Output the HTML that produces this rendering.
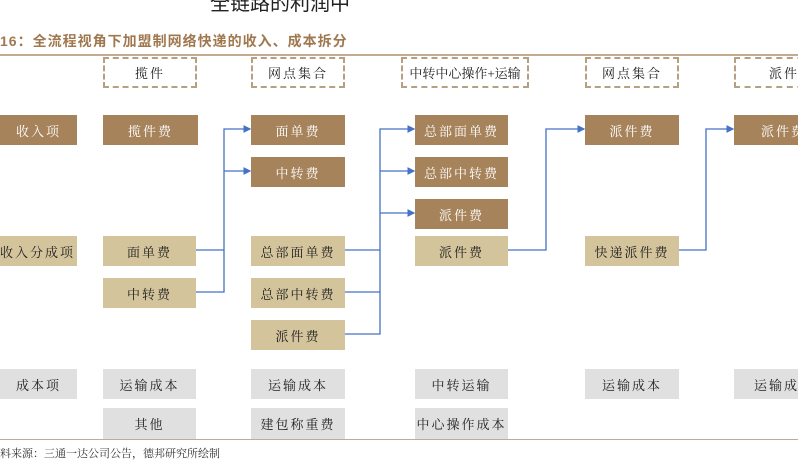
<!DOCTYPE html>
<html><head><meta charset="utf-8"><style>
body{margin:0;width:798px;height:475px;background:#fff;position:relative;overflow:hidden;font-family:"Liberation Serif","Noto Serif CJK SC",serif;}
.b{position:absolute;display:flex;align-items:center;justify-content:center;font-size:13px;letter-spacing:2px;box-sizing:border-box;}
.d{background:#a6835b;color:#fff;}
.l{background:#d4c49c;color:#222;}
.g{background:#e0e0e0;color:#222;}
.h{border:2px dashed #b5a083;color:#222;background:#fff;}
</style></head><body>
<div style="position:absolute;left:210px;top:-13px;font-size:20px;color:#222;font-family:'Noto Sans CJK SC',sans-serif">全链路的利润中</div>
<div style="position:absolute;left:0;top:31px;font-size:14px;font-weight:bold;color:#a0784f;letter-spacing:1px;font-family:'Liberation Sans','Noto Sans CJK SC',sans-serif">16：全流程视角下加盟制网络快递的收入、成本拆分</div>
<div style="position:absolute;left:0;top:54px;width:798px;height:2px;background:#c2ab90"></div>

<div class="b h" style="left:103px;top:57px;width:94px;height:31px">揽件</div>
<div class="b h" style="left:251px;top:57px;width:94px;height:31px">网点集合</div>
<div class="b h" style="left:401px;top:57px;width:128px;height:31px;letter-spacing:0">中转中心操作+运输</div>
<div class="b h" style="left:585px;top:57px;width:94px;height:31px">网点集合</div>
<div class="b h" style="left:734px;top:57px;width:80px;height:31px;justify-content:flex-start;padding-left:33px">派件</div>

<div class="b d" style="left:0;top:115px;width:77px;height:30px">收入项</div>
<div class="b d" style="left:103px;top:115px;width:95px;height:30px">揽件费</div>
<div class="b d" style="left:251px;top:115px;width:94px;height:30px">面单费</div>
<div class="b d" style="left:251px;top:157px;width:94px;height:30px">中转费</div>
<div class="b d" style="left:415px;top:115px;width:93px;height:30px">总部面单费</div>
<div class="b d" style="left:415px;top:157px;width:93px;height:30px">总部中转费</div>
<div class="b d" style="left:415px;top:199px;width:93px;height:30px">派件费</div>
<div class="b d" style="left:585px;top:115px;width:94px;height:30px">派件费</div>
<div class="b d" style="left:734px;top:115px;width:80px;height:30px;justify-content:flex-start;padding-left:27px">派件费</div>

<div class="b l" style="left:0;top:236px;width:77px;height:30px;justify-content:flex-start;padding-left:0">收入分成项</div>
<div class="b l" style="left:103px;top:236px;width:93px;height:30px">面单费</div>
<div class="b l" style="left:103px;top:278px;width:93px;height:30px">中转费</div>
<div class="b l" style="left:251px;top:236px;width:94px;height:30px">总部面单费</div>
<div class="b l" style="left:251px;top:278px;width:94px;height:30px">总部中转费</div>
<div class="b l" style="left:251px;top:320px;width:94px;height:30px">派件费</div>
<div class="b l" style="left:415px;top:236px;width:93px;height:30px">派件费</div>
<div class="b l" style="left:585px;top:236px;width:94px;height:30px">快递派件费</div>

<div class="b g" style="left:0;top:369px;width:77px;height:30px">成本项</div>
<div class="b g" style="left:103px;top:369px;width:93px;height:30px">运输成本</div>
<div class="b g" style="left:103px;top:408px;width:93px;height:31px">其他</div>
<div class="b g" style="left:251px;top:369px;width:94px;height:30px">运输成本</div>
<div class="b g" style="left:251px;top:408px;width:94px;height:31px">建包称重费</div>
<div class="b g" style="left:415px;top:369px;width:93px;height:30px">中转运输</div>
<div class="b g" style="left:415px;top:408px;width:93px;height:31px">中心操作成本</div>
<div class="b g" style="left:585px;top:369px;width:94px;height:30px">运输成本</div>
<div class="b g" style="left:734px;top:369px;width:80px;height:30px;justify-content:flex-start;padding-left:20px">运输成本</div>

<div style="position:absolute;left:0;top:439px;width:798px;height:1px;background:#c2ab90"></div>
<div style="position:absolute;left:0;top:445px;font-size:11px;color:#333">料来源：三通一达公司公告，德邦研究所绘制</div>

<svg style="position:absolute;left:0;top:0" width="798" height="475">
<defs><marker id="a" markerWidth="6" markerHeight="6" refX="5" refY="3" orient="auto"><path d="M0,0 L6,3 L0,6 z" fill="#4472c4"/></marker></defs>
<g stroke="#4472c4" stroke-width="1.3" fill="none">
<path d="M196 250 H224 M196 292 H224 V129 H250" marker-end="url(#a)"/>
<path d="M224 171 H250" marker-end="url(#a)"/>
<path d="M345 250 H380 M345 292 H380 M345 334 H380 V129 H414" marker-end="url(#a)"/>
<path d="M380 171 H414" marker-end="url(#a)"/>
<path d="M380 213 H414" marker-end="url(#a)"/>
<path d="M508 250 H546 V129 H584" marker-end="url(#a)"/>
<path d="M679 250 H706 V129 H733" marker-end="url(#a)"/>
</g></svg>
</body></html>
